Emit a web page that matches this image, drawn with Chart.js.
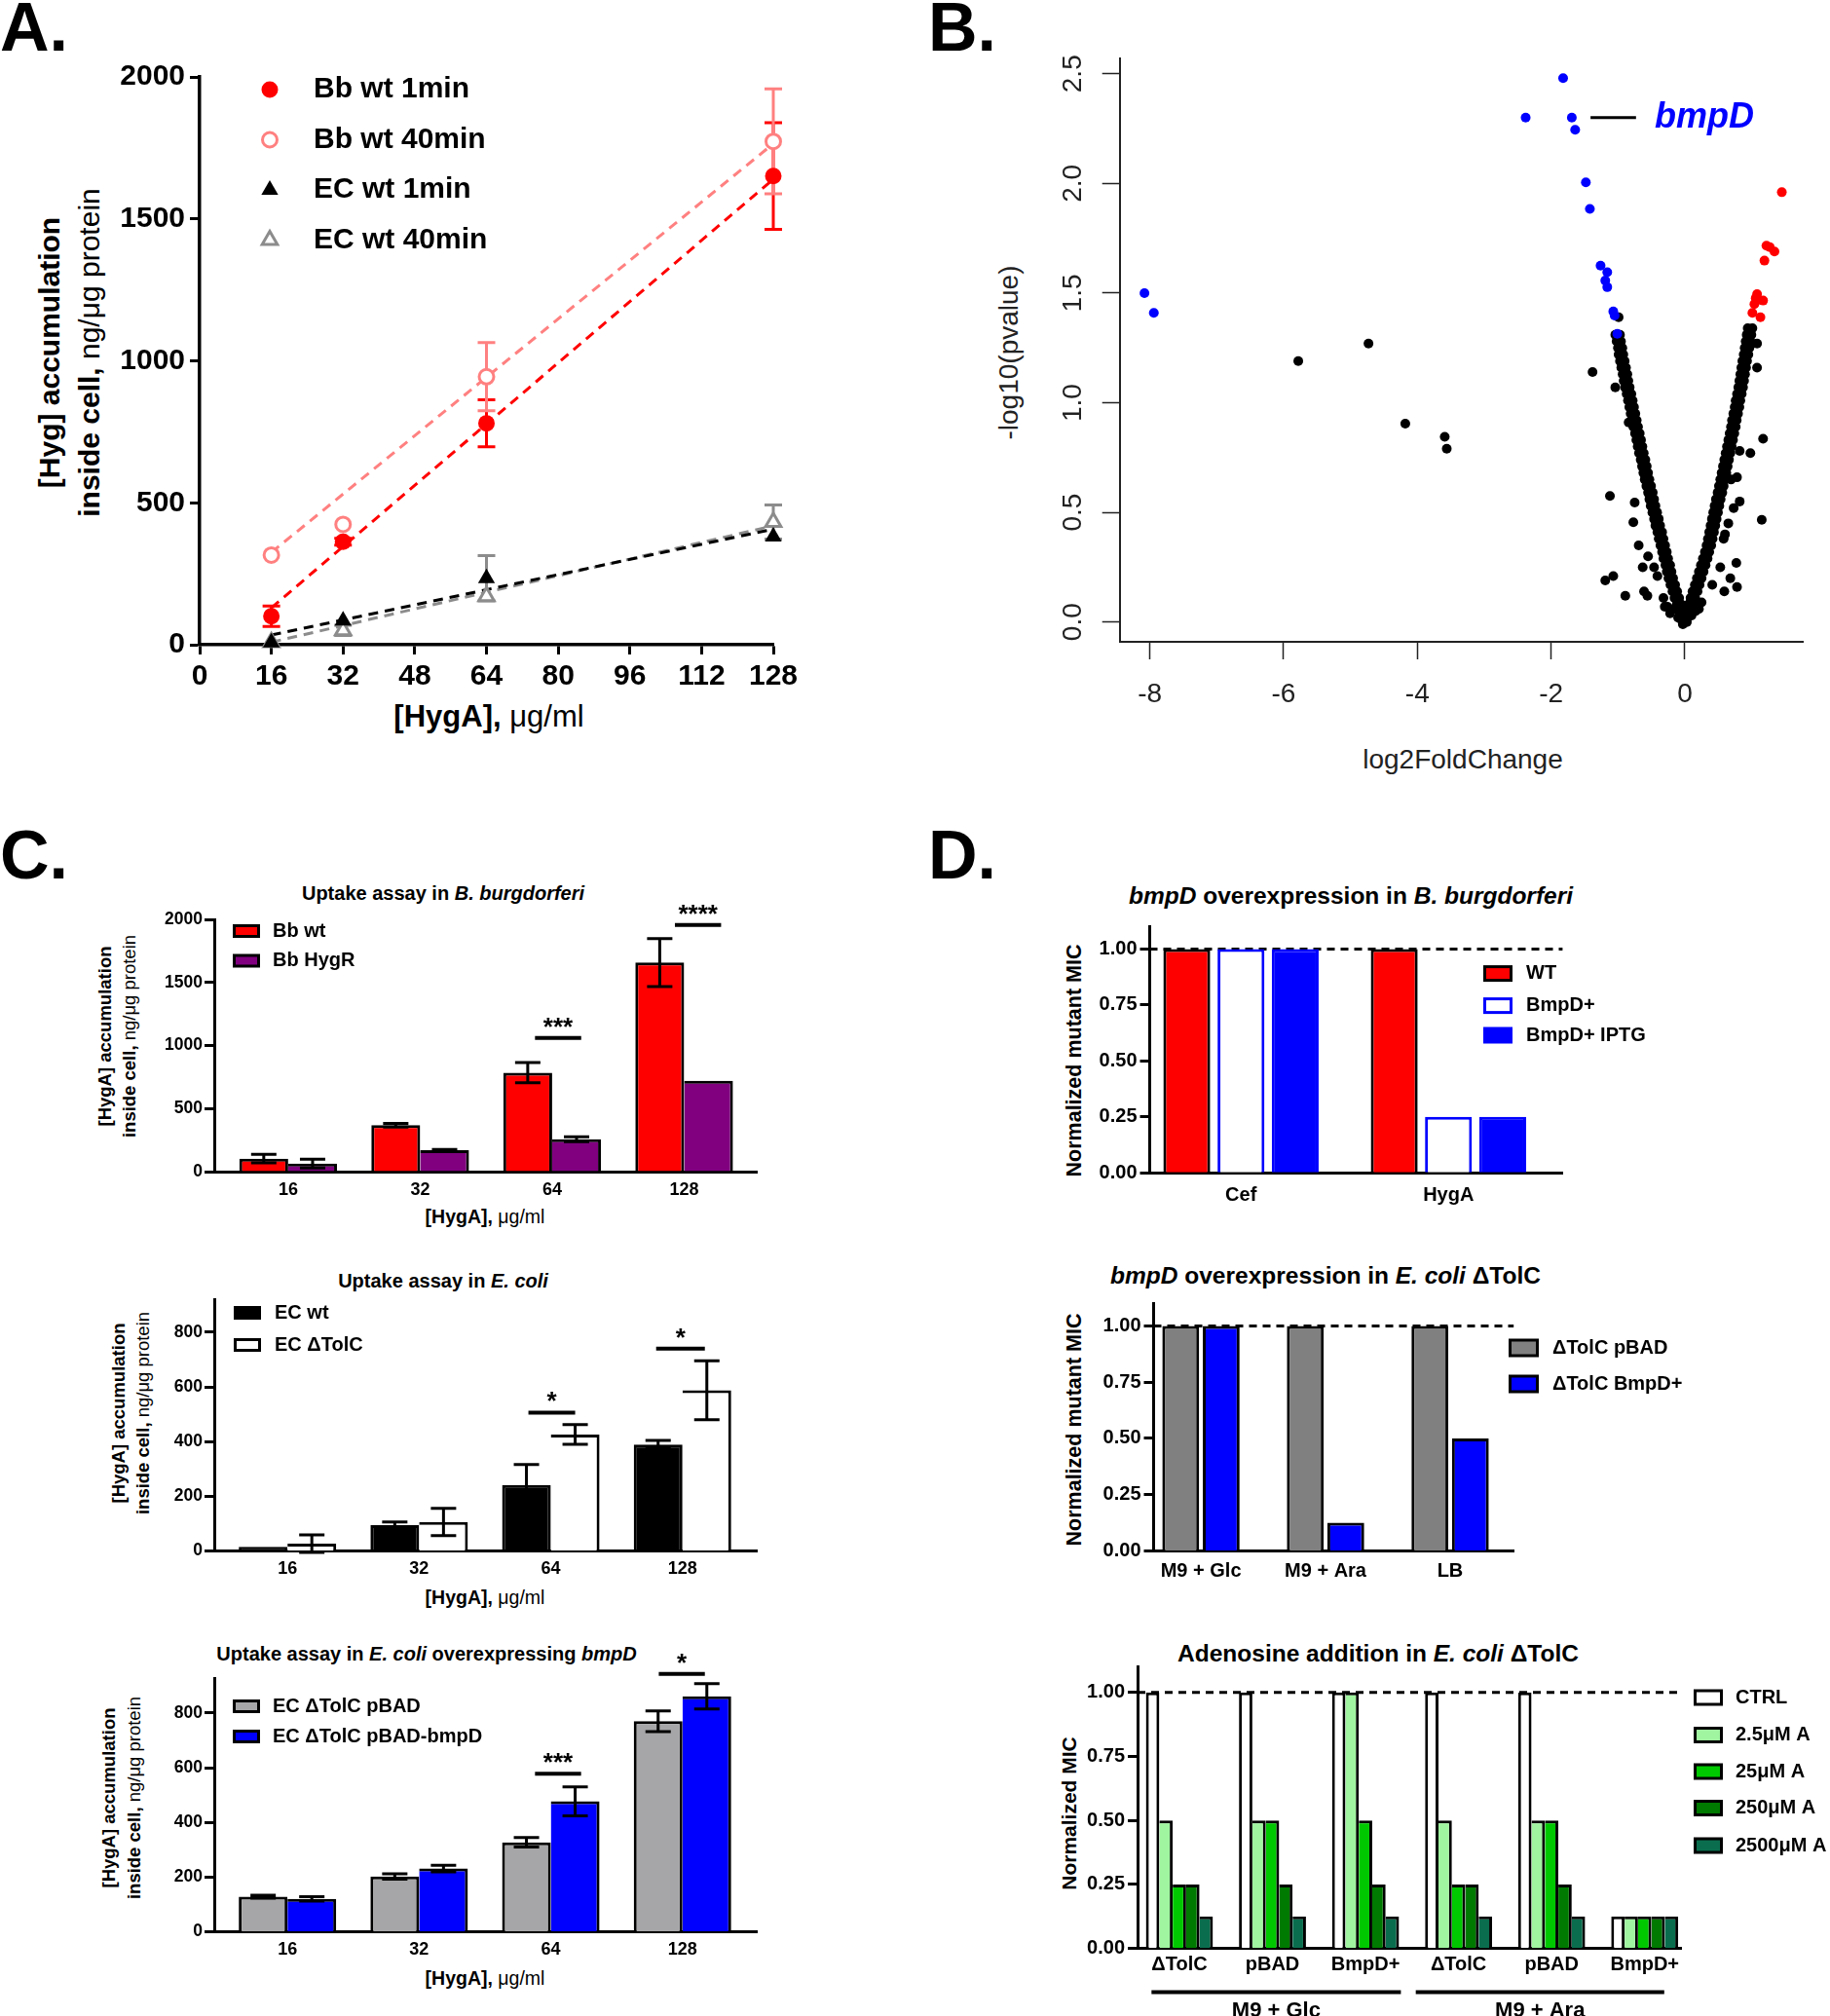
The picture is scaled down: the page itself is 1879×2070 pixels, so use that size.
<!DOCTYPE html>
<html lang="en">
<head>
<meta charset="utf-8">
<title>Hygromycin A uptake and BmpD</title>
<script src="https://cdn.jsdelivr.net/npm/chart.js@4.4.1/dist/chart.umd.min.js"></script>
<style>
  html, body { margin:0; padding:0; background:#fff; }
  #fig { position:relative; width:1879px; height:2070px; overflow:hidden; background:#fff;
         font-family:"Liberation Sans", Arial, Helvetica, sans-serif; color:#000; }
  #fig canvas { position:absolute; }
  .lbl { position:absolute; white-space:nowrap; line-height:1; transform:translate(-50%,-50%); }
  .rot { transform:translate(-50%,-50%) rotate(-90deg); }
  .b { font-weight:bold; }
  .letter { position:absolute; font-weight:bold; font-size:70px; line-height:1; }
</style>
</head>
<body>
<div id="fig">
  <div class="letter" style="left:0px;top:-7px;">A.</div>
  <div class="letter" style="left:953px;top:-7px;">B.</div>
  <div class="letter" style="left:0px;top:843px;">C.</div>
  <div class="letter" style="left:953px;top:843px;">D.</div>

  <!-- Panel A titles -->
  <div class="lbl rot b" style="left:51px;top:362px;font-size:30px;">[Hyg] accumulation</div>
  <div class="lbl rot" style="left:92px;top:362px;font-size:30px;"><b>inside cell,</b> ng/μg protein</div>
  <div class="lbl" style="left:502px;top:735px;font-size:31px;"><b>[HygA],</b> μg/ml</div>

  <!-- Panel B titles -->
  <div class="lbl rot" style="left:1036px;top:362px;font-size:28px;color:#222;">-log10(pvalue)</div>
  <div class="lbl" style="left:1502px;top:780px;font-size:28px;color:#222;">log2FoldChange</div>

  <!-- Panel C titles -->
  <div class="lbl b" style="left:455px;top:917px;font-size:20px;">Uptake assay in <i>B. burgdorferi</i></div>
  <div class="lbl rot b" style="left:108px;top:1064px;font-size:18.5px;">[HygA] accumulation</div>
  <div class="lbl rot" style="left:133px;top:1064px;font-size:18.5px;"><b>inside cell,</b> ng/μg protein</div>
  <div class="lbl" style="left:498px;top:1250px;font-size:19.5px;"><b>[HygA],</b> μg/ml</div>

  <div class="lbl b" style="left:455px;top:1315px;font-size:20px;">Uptake assay in <i>E. coli</i></div>
  <div class="lbl rot b" style="left:122px;top:1451px;font-size:18.5px;">[HygA] accumulation</div>
  <div class="lbl rot" style="left:147px;top:1451px;font-size:18.5px;"><b>inside cell,</b> ng/μg protein</div>
  <div class="lbl" style="left:498px;top:1641px;font-size:19.5px;"><b>[HygA],</b> μg/ml</div>

  <div class="lbl b" style="left:438px;top:1698px;font-size:20px;">Uptake assay in <i>E. coli</i> overexpressing <i>bmpD</i></div>
  <div class="lbl rot b" style="left:112px;top:1846px;font-size:18.5px;">[HygA] accumulation</div>
  <div class="lbl rot" style="left:138px;top:1846px;font-size:18.5px;"><b>inside cell,</b> ng/μg protein</div>
  <div class="lbl" style="left:498px;top:2032px;font-size:19.5px;"><b>[HygA],</b> μg/ml</div>

  <!-- Panel D titles -->
  <div class="lbl b" style="left:1387px;top:920px;font-size:24.5px;"><i>bmpD</i> overexpression in <i>B. burgdorferi</i></div>
  <div class="lbl rot b" style="left:1104px;top:1089px;font-size:21.5px;">Normalized mutant MIC</div>

  <div class="lbl b" style="left:1361px;top:1310px;font-size:24.5px;"><i>bmpD</i> overexpression in <i>E. coli</i> ΔTolC</div>
  <div class="lbl rot b" style="left:1104px;top:1468px;font-size:21.5px;">Normalized mutant MIC</div>

  <div class="lbl b" style="left:1415px;top:1698px;font-size:24.5px;">Adenosine addition in <i>E. coli</i> ΔTolC</div>
  <div class="lbl rot b" style="left:1097px;top:1862px;font-size:21px;">Normalized MIC</div>
</div>

<script>
// ===================== DATA =====================
// ---- Panel A : HygA accumulation vs concentration ----
const concA = [16, 32, 64, 128];
const seriesNamesA = ['Bb wt 1min', 'Bb wt 40min', 'EC wt 1min', 'EC wt 40min'];
const bbWt1min = [100, 363, 780, 1651];
const bbWt1minErr = [36, 12, 83, 188];
const bbWt40min = [316, 424, 944, 1773];
const bbWt40minErr = [0, 0, 120, 185];
const ecWt1min = [8, 85, 234, 381];
const ecWt1minErr = [0, 0, 80, 0];
const ecWt40min = [9, 51, 171, 432];
const ecWt40minErr = [0, 18, 0, 60];
const fitRangeA = [16, 128];
const fitBb1min = [130, 1640];
const fitBb40min = [325, 1765];
const fitEc1min = [34, 407];
const fitEc40min = [9, 419];
const xTicksA = [0, 16, 32, 48, 64, 80, 96, 112, 128];
const yTicksA = [0, 500, 1000, 1500, 2000];

// ---- Panel B : volcano plot (log2FoldChange, -log10 p) ----
const xTicksB = [-8, -6, -4, -2, 0];
const yTicksB = [0, 0.5, 1.0, 1.5, 2.0, 2.5];
const leftArmY = [0.05,0.08,0.11,0.14,0.17,0.20,0.23,0.26,0.29,0.32,0.35,0.38,0.41,0.44,0.47,0.50,0.53,0.56,0.59,0.62,0.65,0.68,0.71,0.74,0.77,0.80,0.83,0.86,0.89,0.92,0.95,0.98,1.01,1.04,1.07,1.10,1.13,1.16,1.19,1.22,1.25,1.28,1.31];
const leftArmOuter = [-0.09,-0.12,-0.155,-0.185,-0.215,-0.245,-0.27,-0.29,-0.32,-0.34,-0.365,-0.39,-0.41,-0.44,-0.46,-0.485,-0.51,-0.53,-0.55,-0.575,-0.60,-0.62,-0.64,-0.66,-0.685,-0.705,-0.725,-0.745,-0.77,-0.79,-0.81,-0.83,-0.85,-0.87,-0.895,-0.915,-0.93,-0.95,-0.97,-0.99,-1.00,-1.02,-1.04];
const leftArmInner = [-0.02,-0.05,-0.085,-0.115,-0.145,-0.175,-0.20,-0.22,-0.25,-0.27,-0.295,-0.32,-0.34,-0.37,-0.39,-0.415,-0.44,-0.46,-0.48,-0.505,-0.53,-0.55,-0.57,-0.59,-0.615,-0.635,-0.655,-0.675,-0.70,-0.72,-0.74,-0.76,-0.78,-0.80,-0.825,-0.845,-0.86,-0.88,-0.90,-0.92,-0.935,-0.955,-0.97];
const rightArmY = [0.05,0.08,0.11,0.14,0.17,0.20,0.23,0.26,0.29,0.32,0.35,0.38,0.41,0.44,0.47,0.50,0.53,0.56,0.59,0.62,0.65,0.68,0.71,0.74,0.77,0.80,0.83,0.86,0.89,0.92,0.95,0.98,1.01,1.04,1.07,1.10,1.13,1.16,1.19,1.22,1.25,1.28,1.31,1.34];
const rightArmInner = [0.02,0.05,0.085,0.115,0.15,0.18,0.21,0.24,0.27,0.30,0.325,0.345,0.365,0.385,0.405,0.425,0.445,0.465,0.49,0.51,0.53,0.55,0.57,0.59,0.61,0.63,0.65,0.67,0.69,0.705,0.725,0.745,0.76,0.78,0.80,0.815,0.83,0.845,0.86,0.88,0.895,0.91,0.925,0.94];
const rightArmOuter = [0.09,0.12,0.155,0.19,0.22,0.25,0.28,0.31,0.34,0.365,0.395,0.415,0.435,0.455,0.475,0.495,0.515,0.535,0.56,0.58,0.60,0.62,0.64,0.66,0.68,0.70,0.72,0.74,0.76,0.775,0.795,0.815,0.83,0.85,0.87,0.885,0.90,0.915,0.93,0.95,0.965,0.98,0.995,1.01];
const volcanoCore = [[-0.22,0.04],[-0.16,0.06],[-0.1,0.02],[-0.05,0.01],[0,0],[0.04,0.02],[0.1,0.03],[0.16,0.05],[0.21,0.06],[-0.12,0.08],[0.13,0.08],[-0.26,0.07],[0.25,0.09],[0.0,0.04],[-0.06,0.05],[0.07,0.06],[-0.03,-0.01],[0.03,0.0]];
const volcanoOther = [[-5.78,1.19],[-4.73,1.27],[-4.18,0.905],[-3.59,0.845],[-3.56,0.79],
  [-1.38,1.14],[-1.04,1.07],[-0.99,1.39],[-1.12,0.575],[-0.77,0.455],[-0.75,0.545],[-0.84,0.91],[-0.79,0.97],
  [-0.69,0.35],[-0.55,0.30],[-0.63,0.25],[-0.46,0.25],[-0.41,0.21],[-1.19,0.19],[-1.07,0.21],[-0.89,0.12],
  [-0.61,0.14],[-0.56,0.12],[-0.32,0.11],[-0.30,0.07],
  [1.08,1.27],[1.08,1.16],[1.17,0.836],[0.98,0.77],[0.82,0.55],[1.15,0.466],[0.65,0.45],[0.60,0.40],[0.58,0.38],
  [0.53,0.25],[0.77,0.27],[0.68,0.20],[0.78,0.16],[0.59,0.14],[0.41,0.17],[0.73,0.52],[0.82,0.78],[0.78,0.66],[0.69,0.65]];
const volcanoDown = [[-8.08,1.50],[-7.94,1.41],[-2.38,2.30],[-1.82,2.48],[-1.69,2.30],[-1.64,2.245],[-1.48,2.005],[-1.42,1.884],[-1.26,1.625],[-1.16,1.595],[-1.19,1.557],[-1.16,1.527],[-1.07,1.416],[-1.05,1.398],[-1.01,1.314]];
const volcanoUp = [[1.45,1.96],[1.22,1.716],[1.27,1.71],[1.34,1.69],[1.19,1.648],[1.08,1.495],[1.06,1.477],[1.17,1.466],[1.04,1.45],[1.01,1.41],[1.13,1.39],[1.10,1.47]];
const geneLabelB = 'bmpD';
const geneLabelB_y = 2.30;

// ---- Panel C : uptake bar charts ----
const doseLabelsC = ['16', '32', '64', '128'];
const yTicksC1 = [0, 500, 1000, 1500, 2000];
const yTicksC23 = [0, 200, 400, 600, 800];
const legendC1 = ['Bb wt', 'Bb HygR'];
const bbWt = [103, 368, 784, 1658];
const bbWtErr = [34, 15, 80, 190];
const bbHygR = [64, 170, 257, 720];
const bbHygRErr = [35, 5, 20, 0];
const sigCatsC1 = [2, 3], sigLevelsC1 = [1060, 1955], sigMarksC1 = ['***', '****'];

const legendC2 = ['EC wt', 'EC ΔTolC'];
const ecWt = [15, 94, 241, 389];
const ecWtErr = [0, 12, 75, 15];
const ecTolC = [27, 106, 426, 588];
const ecTolCErr = [32, 50, 36, 108];
const sigCatsC2 = [2, 3], sigLevelsC2 = [506, 740], sigMarksC2 = ['*', '*'];

const legendC3 = ['EC ΔTolC pBAD', 'EC ΔTolC pBAD-bmpD'];
const ecPbad = [128, 202, 327, 770];
const ecPbadErr = [5, 10, 17, 38];
const ecPbadBmpd = [120, 231, 477, 861];
const ecPbadBmpdErr = [8, 12, 53, 46];
const sigCatsC3 = [2, 3], sigLevelsC3 = [578, 943], sigMarksC3 = ['***', '*'];

// ---- Panel D : normalized MIC ----
const yTicksD = [0, 0.25, 0.5, 0.75, 1.0];
const drugsD1 = ['Cef', 'HygA'];
const legendD1 = ['WT', 'BmpD+', 'BmpD+ IPTG'];
const wtD1 = [1, 1];
const bmpdD1 = [1, 0.25];
const bmpdIptgD1 = [1, 0.25];

const mediaD2 = ['M9 + Glc', 'M9 + Ara', 'LB'];
const legendD2 = ['ΔTolC pBAD', 'ΔTolC BmpD+'];
const pbadD2 = [1, 1, 1];
const bmpdD2 = [1, 0.125, 0.5];

const strainsD3 = ['ΔTolC', 'pBAD', 'BmpD+', 'ΔTolC', 'pBAD', 'BmpD+'];
const legendD3 = ['CTRL', '2.5μM A', '25μM A', '250μM A', '2500μM A'];
const ctrlD3 = [1, 1, 1, 1, 1, 0.125];
const ade2_5D3 = [0.5, 0.5, 1, 0.5, 0.5, 0.125];
const ade25D3 = [0.25, 0.5, 0.5, 0.25, 0.5, 0.125];
const ade250D3 = [0.25, 0.25, 0.25, 0.25, 0.25, 0.125];
const ade2500D3 = [0.125, 0.125, 0.125, 0.125, 0.125, 0.125];
const mediaGroupsD3 = ['M9 + Glc', 'M9 + Ara'];

// ===================== HELPERS =====================
const FONT = '"Liberation Sans", Arial, Helvetica, sans-serif';
Chart.defaults.font.family = FONT;
Chart.defaults.color = '#000';
const fig = document.getElementById('fig');

function makeCanvas(box) {
  const c = document.createElement('canvas');
  c.width = box.w; c.height = box.h;
  c.style.left = box.x + 'px'; c.style.top = box.y + 'px';
  c.style.width = box.w + 'px'; c.style.height = box.h + 'px';
  fig.appendChild(c);
  return c;
}
function frame(box, area) {
  return {
    padding: { left: 0, top: area.top - box.y, right: (box.x + box.w) - area.right, bottom: 0 },
    yW: area.left - box.x,
    xH: (box.y + box.h) - area.bottom
  };
}

function drawErrors(chart, o) {
  const ctx = chart.ctx, ys = chart.scales.y;
  chart.data.datasets.forEach((ds, di) => {
    if (!ds.errors) return;
    const meta = chart.getDatasetMeta(di);
    ctx.save();
    ctx.strokeStyle = ds.errorColor || '#000';
    ctx.lineWidth = o.width || 3;
    meta.data.forEach((el, i) => {
      const e = ds.errors[i];
      if (!e) return;
      const raw = ds.data[i];
      const v = (typeof raw === 'object') ? raw.y : raw;
      const x = el.x;
      const y1 = ys.getPixelForValue(v + e), y2 = ys.getPixelForValue(v - e);
      const cw = o.cap || 10;
      ctx.beginPath();
      ctx.moveTo(x, y1); ctx.lineTo(x, y2);
      ctx.moveTo(x - cw, y1); ctx.lineTo(x + cw, y1);
      ctx.moveTo(x - cw, y2); ctx.lineTo(x + cw, y2);
      ctx.stroke();
    });
    ctx.restore();
  });
}
const errorBars = {
  id: 'errorBars',
  beforeDatasetsDraw(chart, a, o) { if (o && o.behind) drawErrors(chart, o); },
  afterDatasetsDraw(chart, a, o) { if (o && !o.behind && o.cap) drawErrors(chart, o); }
};

function drawMarker(ctx, ds, x, y) {
  const r = ds.pointRadius;
  ctx.beginPath();
  if (ds.pointStyle === 'triangle') {
    for (let k = 0; k < 3; k++) {
      const ang = k * 2 * Math.PI / 3;
      const px = x + Math.sin(ang) * r, py = y - Math.cos(ang) * r;
      if (k === 0) ctx.moveTo(px, py); else ctx.lineTo(px, py);
    }
    ctx.closePath();
  } else {
    ctx.arc(x, y, r, 0, 2 * Math.PI);
  }
  ctx.fillStyle = ds.backgroundColor; ctx.fill();
  if (ds.borderWidth > 0) { ctx.lineWidth = ds.borderWidth; ctx.strokeStyle = ds.borderColor; ctx.stroke(); }
}
function drawSwatch(ctx, ds, x, y, w, h, lw) {
  const top = y - h / 2;
  ctx.fillStyle = ds.borderColor; ctx.fillRect(x, top, w, h);
  ctx.fillStyle = ds.backgroundColor; ctx.fillRect(x + lw, top + lw, w - 2 * lw, h - 2 * lw);
}
const customLegend = {
  id: 'customLegend',
  afterDraw(chart, a, o) {
    if (!o || !o.rows) return;
    const ctx = chart.ctx;
    ctx.save();
    o.rows.forEach((di, k) => {
      const ds = chart.data.datasets[di];
      const y = o.y[k] - o.oy;
      if (o.kind === 'point') drawMarker(ctx, ds, o.mx - o.ox, y);
      else drawSwatch(ctx, ds, o.bx - o.ox, y, o.bw, o.bh, o.line);
      ctx.fillStyle = '#000'; ctx.font = o.font;
      ctx.textAlign = 'left'; ctx.textBaseline = 'middle';
      ctx.fillText(ds.label, o.tx - o.ox, y);
    });
    ctx.restore();
  }
};
const sigBars = {
  id: 'sigBars',
  afterDatasetsDraw(chart, a, o) {
    if (!o || !o.cats) return;
    const ctx = chart.ctx, xs = chart.scales.x, ys = chart.scales.y;
    ctx.save();
    ctx.strokeStyle = '#000'; ctx.fillStyle = '#000'; ctx.lineWidth = o.width;
    ctx.font = o.font; ctx.textAlign = 'center'; ctx.textBaseline = 'alphabetic';
    o.cats.forEach((c, i) => {
      const x0 = xs.getPixelForValue(c + o.from[i]), x1 = xs.getPixelForValue(c + o.to[i]);
      const y = ys.getPixelForValue(o.levels[i]);
      ctx.beginPath(); ctx.moveTo(x0, y); ctx.lineTo(x1, y); ctx.stroke();
      ctx.fillText(o.marks[i], (x0 + x1) / 2, y - o.gap);
    });
    ctx.restore();
  }
};
const refLine = {
  id: 'refLine',
  beforeDatasetsDraw(chart, a, o) {
    if (!o || o.value == null) return;
    const ctx = chart.ctx, ys = chart.scales.y, ca = chart.chartArea;
    const y = ys.getPixelForValue(o.value);
    ctx.save();
    ctx.setLineDash(o.dash); ctx.lineWidth = o.width; ctx.strokeStyle = '#000';
    ctx.beginPath(); ctx.moveTo(ca.left, y); ctx.lineTo(ca.right, y); ctx.stroke();
    ctx.restore();
  }
};
const groupBrackets = {
  id: 'groupBrackets',
  afterDraw(chart, a, o) {
    if (!o || !o.spans) return;
    const ctx = chart.ctx, xs = chart.scales.x, ca = chart.chartArea;
    ctx.save();
    ctx.strokeStyle = '#000'; ctx.fillStyle = '#000'; ctx.lineWidth = o.width;
    ctx.font = o.font; ctx.textAlign = 'center'; ctx.textBaseline = 'alphabetic';
    o.spans.forEach((sp, i) => {
      const x0 = xs.getPixelForValue(sp[0]), x1 = xs.getPixelForValue(sp[1]);
      const y = ca.bottom + o.dy;
      ctx.beginPath(); ctx.moveTo(x0, y); ctx.lineTo(x1, y); ctx.stroke();
      ctx.fillText(o.labels[i], (x0 + x1) / 2, ca.bottom + o.ty);
    });
    ctx.restore();
  }
};
const noteLabel = {
  id: 'noteLabel',
  afterDatasetsDraw(chart, a, o) {
    if (!o || !o.text) return;
    const ctx = chart.ctx, xs = chart.scales.x, ys = chart.scales.y;
    const y = ys.getPixelForValue(o.y);
    ctx.save();
    ctx.strokeStyle = '#000'; ctx.lineWidth = 3;
    ctx.beginPath(); ctx.moveTo(xs.getPixelForValue(o.x0), y); ctx.lineTo(xs.getPixelForValue(o.x1), y); ctx.stroke();
    ctx.fillStyle = o.color; ctx.font = o.font; ctx.textAlign = 'left'; ctx.textBaseline = 'middle';
    ctx.fillText(o.text, xs.getPixelForValue(o.tx), y);
    ctx.restore();
  }
};

// ===================== PANEL A =====================
(function () {
  const box = { x: 110, y: 40, w: 740, h: 700 };
  const area = { left: 205, right: 794, top: 79, bottom: 662 };
  const f = frame(box, area);
  const pts = (xs, ys) => xs.map((x, i) => ({ x: x, y: ys[i] }));
  new Chart(makeCanvas(box), {
    type: 'scatter',
    data: { datasets: [
      { label: seriesNamesA[0], data: pts(concA, bbWt1min), errors: bbWt1minErr, errorColor: '#ff0000',
        pointStyle: 'circle', pointRadius: 8.5, backgroundColor: '#ff0000', borderColor: '#ff0000', borderWidth: 0, clip: false, order: 1 },
      { label: seriesNamesA[1], data: pts(concA, bbWt40min), errors: bbWt40minErr, errorColor: '#ff8080',
        pointStyle: 'circle', pointRadius: 7.5, backgroundColor: '#ffffff', borderColor: '#ff8080', borderWidth: 3, clip: false, order: 1 },
      { label: seriesNamesA[2], data: pts(concA, ecWt1min), errors: ecWt1minErr, errorColor: '#8c8c8c',
        pointStyle: 'triangle', pointRadius: 10, backgroundColor: '#000000', borderColor: '#000000', borderWidth: 0, clip: false, order: 1 },
      { label: seriesNamesA[3], data: pts(concA, ecWt40min), errors: ecWt40minErr, errorColor: '#8c8c8c',
        pointStyle: 'triangle', pointRadius: 9, backgroundColor: '#ffffff', borderColor: '#8c8c8c', borderWidth: 3, clip: false, order: 1 },
      { type: 'line', label: 'fit ' + seriesNamesA[0], data: pts(fitRangeA, fitBb1min), borderColor: '#ff0000', borderWidth: 3, borderDash: [10, 7], pointRadius: 0, clip: false, order: 2 },
      { type: 'line', label: 'fit ' + seriesNamesA[1], data: pts(fitRangeA, fitBb40min), borderColor: '#ff8080', borderWidth: 3, borderDash: [10, 7], pointRadius: 0, clip: false, order: 2 },
      { type: 'line', label: 'fit ' + seriesNamesA[2], data: pts(fitRangeA, fitEc1min), borderColor: '#000000', borderWidth: 3, borderDash: [10, 7], pointRadius: 0, clip: false, order: 2 },
      { type: 'line', label: 'fit ' + seriesNamesA[3], data: pts(fitRangeA, fitEc40min), borderColor: '#8c8c8c', borderWidth: 3, borderDash: [10, 7], pointRadius: 0, clip: false, order: 2 }
    ] },
    options: {
      responsive: false, animation: false, devicePixelRatio: 1, events: [],
      layout: { padding: f.padding },
      plugins: {
        legend: { display: false }, tooltip: { enabled: false },
        errorBars: { behind: true, cap: 9, width: 3 },
        customLegend: { kind: 'point', rows: [0, 1, 2, 3], y: [92, 143.5, 195, 246.5], mx: 277, tx: 322,
                        font: 'bold 30px ' + FONT, ox: box.x, oy: box.y }
      },
      scales: {
        x: { type: 'linear', min: 0, max: 128,
             afterBuildTicks: s => { s.ticks = xTicksA.map(v => ({ value: v })); },
             ticks: { autoSkip: false, maxRotation: 0, padding: 5, font: { size: 30, weight: 'bold' }, color: '#000', callback: v => String(v) },
             grid: { display: true, drawOnChartArea: false, drawTicks: true, tickLength: 10, tickWidth: 3, tickColor: '#000' },
             border: { display: true, color: '#000', width: 3.5 },
             afterFit: s => { s.height = f.xH; } },
        y: { type: 'linear', min: 0, max: 2000,
             afterBuildTicks: s => { s.ticks = yTicksA.map(v => ({ value: v })); },
             ticks: { autoSkip: false, padding: 5, font: { size: 30, weight: 'bold' }, color: '#000', callback: v => String(v) },
             grid: { display: true, drawOnChartArea: false, drawTicks: true, tickLength: 10, tickWidth: 3, tickColor: '#000' },
             border: { display: true, color: '#000', width: 3.5 },
             afterFit: s => { s.width = f.yW; } }
      }
    },
    plugins: [errorBars, customLegend]
  });
})();

// ===================== PANEL B =====================
(function () {
  const box = { x: 1040, y: 20, w: 839, h: 730 };
  const area = { left: 1149.7, right: 1851.5, top: 60, bottom: 659 };
  const f = frame(box, area);
  const toPts = arr => arr.map(p => ({ x: p[0], y: p[1] }));
  const nsPts = leftArmY.map((y, i) => ({ x: leftArmOuter[i], y: y }))
    .concat(leftArmY.map((y, i) => ({ x: leftArmInner[i], y: y })))
    .concat(rightArmY.map((y, i) => ({ x: rightArmInner[i], y: y })))
    .concat(rightArmY.map((y, i) => ({ x: rightArmOuter[i], y: y })))
    .concat(toPts(volcanoCore)).concat(toPts(volcanoOther));
  new Chart(makeCanvas(box), {
    type: 'scatter',
    data: { datasets: [
      { label: 'not significant', data: nsPts, backgroundColor: '#000000', borderWidth: 0, pointRadius: 5, clip: false, order: 3 },
      { label: 'down', data: toPts(volcanoDown), backgroundColor: '#0000ff', borderWidth: 0, pointRadius: 5, clip: false, order: 2 },
      { label: 'up', data: toPts(volcanoUp), backgroundColor: '#ff0000', borderWidth: 0, pointRadius: 5, clip: false, order: 1 }
    ] },
    options: {
      responsive: false, animation: false, devicePixelRatio: 1, events: [],
      layout: { padding: f.padding },
      plugins: {
        legend: { display: false }, tooltip: { enabled: false },
        noteLabel: { text: geneLabelB, y: geneLabelB_y, x0: -1.41, x1: -0.73, tx: -0.45, color: '#0000ff', font: 'italic bold 36px ' + FONT }
      },
      scales: {
        x: { type: 'linear', min: -8.45, max: 1.77,
             afterBuildTicks: s => { s.ticks = xTicksB.map(v => ({ value: v })); },
             ticks: { autoSkip: false, maxRotation: 0, padding: 19, font: { size: 28 }, color: '#222', callback: v => String(v) },
             grid: { display: true, drawOnChartArea: false, drawTicks: true, tickLength: 18, tickWidth: 1.5, tickColor: '#222' },
             border: { display: true, color: '#222', width: 2 },
             afterFit: s => { s.height = f.xH; } },
        y: { type: 'linear', min: -0.09, max: 2.57,
             afterBuildTicks: s => { s.ticks = yTicksB.map(v => ({ value: v })); },
             ticks: { autoSkip: false, minRotation: 90, maxRotation: 90, crossAlign: 'center', padding: 10, font: { size: 28 }, color: '#222', callback: v => v.toFixed(1) },
             grid: { display: true, drawOnChartArea: false, drawTicks: true, tickLength: 18, tickWidth: 1.5, tickColor: '#222' },
             border: { display: true, color: '#222', width: 2 },
             afterFit: s => { s.width = f.yW; } }
      }
    },
    plugins: [noteLabel]
  });
})();

// ===================== BAR PANELS =====================
function barPanel(p) {
  const f = frame(p.box, p.area);
  const datasets = p.series.map(s => ({
    label: s.label,
    data: s.values.map((v, i) => ({ x: i, y: v })),
    errors: s.errors || null,
    backgroundColor: s.fill,
    borderColor: s.stroke,
    borderWidth: s.bw,
    borderSkipped: 'start',
    categoryPercentage: p.catPct,
    barPercentage: p.barPct
  }));
  return new Chart(makeCanvas(p.box), {
    type: 'bar',
    data: { datasets: datasets },
    options: {
      responsive: false, animation: false, devicePixelRatio: 1, events: [],
      layout: { padding: f.padding },
      plugins: {
        legend: { display: false }, tooltip: { enabled: false },
        errorBars: { behind: false, cap: p.cap || 13, width: 3 },
        customLegend: Object.assign({ ox: p.box.x, oy: p.box.y }, p.legend),
        sigBars: p.sig || {},
        refLine: p.ref || {},
        groupBrackets: p.brackets || {}
      },
      scales: {
        x: { type: 'linear', min: p.xMin, max: p.xMax, offset: false,
             afterBuildTicks: s => { s.ticks = p.labels.map((l, i) => ({ value: i })); },
             ticks: { autoSkip: false, maxRotation: 0, minRotation: 0, padding: p.xPad, font: { size: p.xFont, weight: 'bold' }, color: '#000', callback: v => p.labels[v] },
             grid: { display: false, drawTicks: false, drawOnChartArea: false },
             border: { display: true, color: '#000', width: 3 },
             afterFit: s => { s.height = f.xH; } },
        y: { type: 'linear', min: p.yMin, max: p.yMax,
             afterBuildTicks: s => { s.ticks = p.yTicks.map(v => ({ value: v })); },
             ticks: { autoSkip: false, padding: p.yPad, font: { size: p.yFont, weight: 'bold' }, color: '#000', callback: p.yFmt },
             grid: { display: true, drawOnChartArea: false, drawTicks: true, tickLength: 10, tickWidth: 3, tickColor: '#000' },
             border: { display: true, color: '#000', width: 3 },
             afterFit: s => { s.width = f.yW; } }
      }
    },
    plugins: [refLine, errorBars, sigBars, customLegend, groupBrackets]
  });
}

const BW_FULL = { top: 3, left: 3, right: 3, bottom: 0 };
const BW_NOLEFT = { top: 3, left: 0, right: 3, bottom: 0 };
const intFmt = v => String(v);
const micFmt = v => v.toFixed(2);

// C1
barPanel({
  box: { x: 150, y: 890, w: 660, h: 350 }, area: { left: 220, right: 777, top: 944, bottom: 1203 },
  labels: doseLabelsC, xMin: -0.56, xMax: 3.55, catPct: 0.74, barPct: 1,
  yMin: 0, yMax: 2000, yTicks: yTicksC1, yFmt: intFmt, xFont: 18, yFont: 17.5, xPad: 8, yPad: 2,
  series: [
    { label: legendC1[0], values: bbWt, errors: bbWtErr, fill: '#ff0000', stroke: '#000', bw: BW_FULL },
    { label: legendC1[1], values: bbHygR, errors: bbHygRErr, fill: '#800080', stroke: '#000', bw: BW_NOLEFT }
  ],
  legend: { kind: 'box', rows: [0, 1], y: [956, 986.5], bx: 239, bw: 28, bh: 14, line: 3, tx: 280, font: 'bold 20px ' + FONT },
  sig: { cats: sigCatsC1, levels: sigLevelsC1, marks: sigMarksC1, from: [-0.13, -0.07], to: [0.22, 0.28], width: 4, font: 'bold 26px ' + FONT, gap: 3 }
});

// C2
barPanel({
  box: { x: 150, y: 1290, w: 660, h: 340 }, area: { left: 220, right: 777, top: 1334.3, bottom: 1592.5 },
  labels: doseLabelsC, xMin: -0.556, xMax: 3.564, catPct: 0.74, barPct: 1,
  yMin: 0, yMax: 920, yTicks: yTicksC23, yFmt: intFmt, xFont: 18, yFont: 17.5, xPad: 8, yPad: 2,
  series: [
    { label: legendC2[0], values: ecWt, errors: ecWtErr, fill: '#000000', stroke: '#000', bw: BW_FULL },
    { label: legendC2[1], values: ecTolC, errors: ecTolCErr, fill: '#ffffff', stroke: '#000', bw: BW_NOLEFT }
  ],
  legend: { kind: 'box', rows: [0, 1], y: [1348, 1381], bx: 240, bw: 28, bh: 14, line: 3, tx: 282, font: 'bold 20px ' + FONT },
  sig: { cats: sigCatsC2, levels: sigLevelsC2, marks: sigMarksC2, from: [-0.17, -0.2], to: [0.185, 0.17], width: 4, font: 'bold 26px ' + FONT, gap: 3 }
});

// C3
barPanel({
  box: { x: 150, y: 1680, w: 660, h: 340 }, area: { left: 220, right: 777, top: 1723.8, bottom: 1983.4 },
  labels: doseLabelsC, xMin: -0.556, xMax: 3.564, catPct: 0.74, barPct: 1,
  yMin: 0, yMax: 925, yTicks: yTicksC23, yFmt: intFmt, xFont: 18, yFont: 17.5, xPad: 8, yPad: 2,
  series: [
    { label: legendC3[0], values: ecPbad, errors: ecPbadErr, fill: '#a6a6a8', stroke: '#000', bw: BW_FULL },
    { label: legendC3[1], values: ecPbadBmpd, errors: ecPbadBmpdErr, fill: '#0000ff', stroke: '#000', bw: BW_NOLEFT }
  ],
  legend: { kind: 'box', rows: [0, 1], y: [1752, 1783], bx: 239, bw: 28, bh: 14, line: 3, tx: 280, font: 'bold 20px ' + FONT },
  sig: { cats: sigCatsC3, levels: sigLevelsC3, marks: sigMarksC3, from: [-0.12, -0.18], to: [0.23, 0.17], width: 4, font: 'bold 26px ' + FONT, gap: 3 }
});

// D1
barPanel({
  box: { x: 1100, y: 930, w: 640, h: 320 }, area: { left: 1180.5, right: 1604.4, top: 951.5, bottom: 1204.3 },
  labels: drugsD1, xMin: -0.44, xMax: 1.55, catPct: 0.784, barPct: 0.865,
  yMin: 0, yMax: 1.1, yTicks: yTicksD, yFmt: micFmt, xFont: 20, yFont: 20, xPad: 11, yPad: 3,
  series: [
    { label: legendD1[0], values: wtD1, fill: '#ff0000', stroke: '#000', bw: 3 },
    { label: legendD1[1], values: bmpdD1, fill: '#ffffff', stroke: '#0000ff', bw: 3 },
    { label: legendD1[2], values: bmpdIptgD1, fill: '#0000ff', stroke: '#0000ff', bw: 3 }
  ],
  legend: { kind: 'box', rows: [0, 1, 2], y: [999.6, 1032.6, 1063], bx: 1523, bw: 30, bh: 17, line: 3, tx: 1567, font: 'bold 20px ' + FONT },
  ref: { value: 1, dash: [8, 6], width: 3 }
});

// D2
barPanel({
  box: { x: 1100, y: 1320, w: 660, h: 320 }, area: { left: 1184.5, right: 1554.2, top: 1338.3, bottom: 1592.5 },
  labels: mediaD2, xMin: -0.38, xMax: 2.51, catPct: 0.65, barPct: 0.91,
  yMin: 0, yMax: 1.1, yTicks: yTicksD, yFmt: micFmt, xFont: 20, yFont: 20, xPad: 9, yPad: 3,
  series: [
    { label: legendD2[0], values: pbadD2, fill: '#808080', stroke: '#000', bw: 3 },
    { label: legendD2[1], values: bmpdD2, fill: '#0000ff', stroke: '#000', bw: 3 }
  ],
  legend: { kind: 'box', rows: [0, 1], y: [1384, 1421], bx: 1549, bw: 31, bh: 19, line: 3, tx: 1594, font: 'bold 20px ' + FONT },
  ref: { value: 1, dash: [8, 6], width: 3 }
});

// D3
barPanel({
  box: { x: 1090, y: 1690, w: 789, h: 380 }, area: { left: 1168, right: 1726, top: 1711.5, bottom: 2000.6 },
  labels: strainsD3, xMin: -0.45, xMax: 5.39, catPct: 0.72, barPct: 1,
  yMin: 0, yMax: 1.1, yTicks: yTicksD, yFmt: micFmt, xFont: 20, yFont: 20, xPad: 5, yPad: 3,
  series: [
    { label: legendD3[0], values: ctrlD3, fill: '#ffffff', stroke: '#000', bw: BW_FULL },
    { label: legendD3[1], values: ade2_5D3, fill: '#a0f5a0', stroke: '#000', bw: BW_NOLEFT },
    { label: legendD3[2], values: ade25D3, fill: '#00c800', stroke: '#000', bw: BW_NOLEFT },
    { label: legendD3[3], values: ade250D3, fill: '#007a00', stroke: '#000', bw: BW_NOLEFT },
    { label: legendD3[4], values: ade2500D3, fill: '#0a6e4e', stroke: '#000', bw: BW_NOLEFT }
  ],
  legend: { kind: 'box', rows: [0, 1, 2, 3, 4], y: [1743, 1781.5, 1819, 1856.5, 1895], bx: 1739, bw: 30, bh: 17, line: 3, tx: 1782, font: 'bold 20px ' + FONT },
  ref: { value: 1, dash: [8, 6], width: 3 },
  brackets: { spans: [[-0.3, 2.38], [2.54, 5.21]], labels: mediaGroupsD3, dy: 45, ty: 70, width: 4, font: 'bold 22px ' + FONT }
});
</script>
</body>
</html>
